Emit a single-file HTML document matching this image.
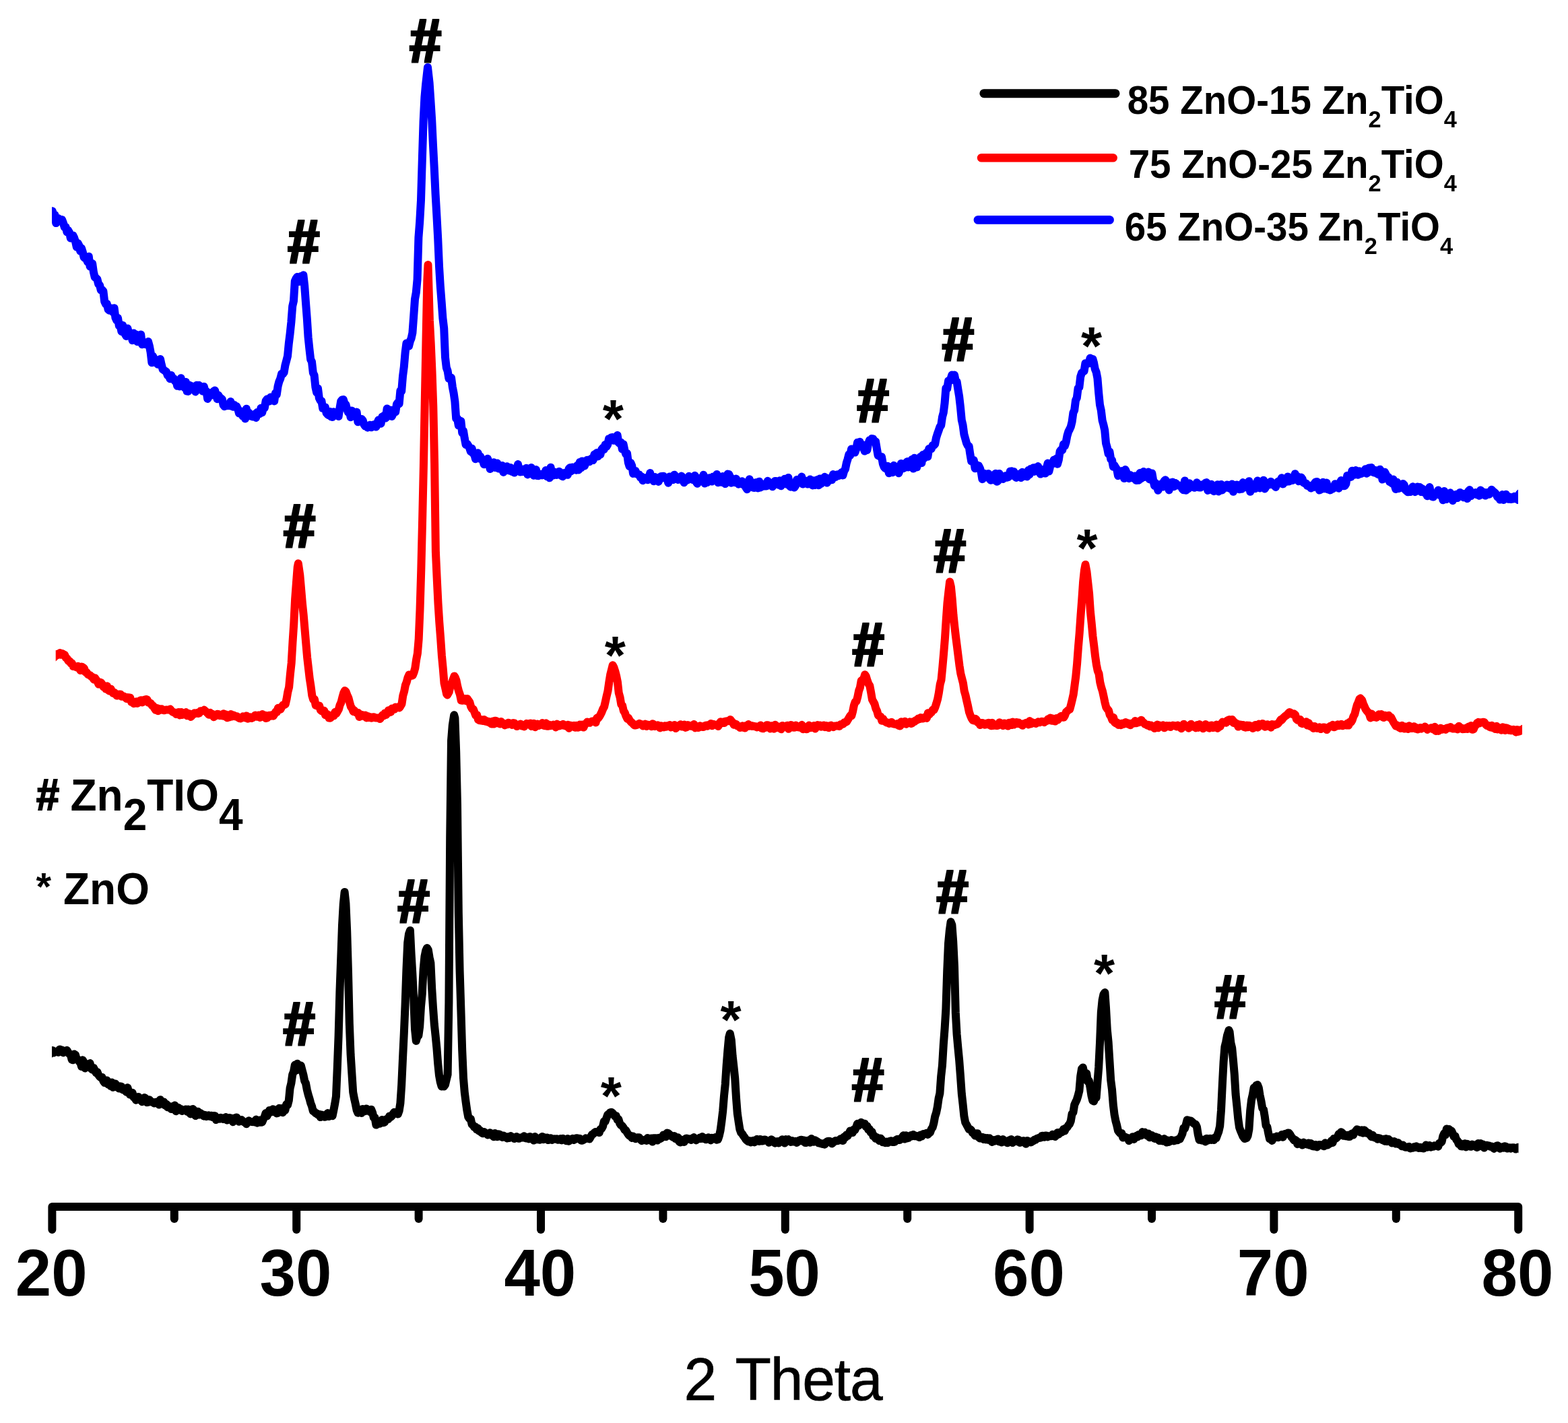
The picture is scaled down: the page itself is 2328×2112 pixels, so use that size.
<!DOCTYPE html>
<html lang="en"><head><meta charset="utf-8"><title>XRD patterns</title>
<style>
html,body{margin:0;padding:0;background:#fff;}
body{width:2328px;height:2112px;overflow:hidden;}
svg{display:block;}
text{font-family:"Liberation Sans",sans-serif;fill:#000;}
.tick{font-size:96px;font-weight:bold;}
.mk{font-weight:bold;}
.lg{font-size:56.5px;font-weight:bold;}
.lgs{font-size:34.4px;font-weight:bold;}
.ph{font-size:64px;font-weight:bold;}
.xl{font-size:87.6px;}
</style></head>
<body>
<svg width="2328" height="2112" viewBox="0 0 2328 2112">
<rect width="2328" height="2112" fill="#fff"/>
<g id="curves">
<clipPath id="clip-black"><rect x="77.0" y="0" width="2177.5" height="1780"/></clipPath>
<polyline clip-path="url(#clip-black)" points="67.0,1563.5 68.8,1565.0 70.6,1563.0 72.4,1557.0 74.2,1564.5 76.0,1562.7 77.8,1559.0 79.6,1562.6 81.4,1561.6 83.2,1561.2 85.0,1560.2 86.8,1561.9 88.6,1557.4 90.4,1559.4 92.2,1558.4 94.0,1562.4 95.8,1560.7 97.6,1559.9 99.4,1558.8 101.2,1561.8 103.0,1564.4 104.8,1565.2 106.6,1572.6 108.4,1573.3 110.2,1564.5 112.0,1565.6 113.8,1572.5 115.6,1572.5 117.4,1575.6 119.2,1576.4 121.0,1583.0 122.8,1573.3 124.6,1576.7 126.4,1585.5 128.2,1582.1 130.0,1583.3 131.8,1580.5 133.6,1578.1 135.4,1586.2 137.2,1587.7 139.0,1584.9 140.8,1588.5 142.6,1592.3 144.4,1590.9 146.2,1595.5 148.0,1597.9 149.8,1599.4 151.6,1599.1 153.4,1604.4 155.2,1606.8 157.0,1606.1 158.8,1603.4 160.6,1609.6 162.4,1606.5 164.2,1612.0 166.0,1606.4 167.8,1613.8 169.6,1611.6 171.4,1608.4 173.2,1612.2 175.0,1614.2 176.8,1615.6 178.6,1612.3 180.4,1612.6 182.2,1617.3 184.0,1615.8 185.8,1618.6 187.6,1620.8 189.4,1614.2 191.2,1620.8 193.0,1624.7 194.8,1621.5 196.6,1621.8 198.4,1628.5 200.2,1629.1 202.0,1632.7 203.8,1630.6 205.6,1628.0 207.4,1632.2 209.2,1631.6 211.0,1635.2 212.8,1633.8 214.6,1629.0 216.4,1630.4 218.2,1636.2 220.0,1635.8 221.8,1632.3 223.6,1634.3 225.4,1635.7 227.2,1636.0 229.0,1637.4 230.8,1636.0 232.6,1635.5 234.4,1635.5 236.2,1639.6 238.0,1632.2 239.8,1637.5 241.6,1638.6 243.4,1635.4 245.2,1640.6 247.0,1638.7 248.8,1643.3 250.6,1641.4 252.4,1644.0 254.2,1646.0 256.0,1644.4 257.8,1641.7 259.6,1640.6 261.4,1649.3 263.2,1645.0 265.0,1644.0 266.8,1646.5 268.6,1646.1 270.4,1649.0 272.2,1647.4 274.0,1647.8 275.8,1646.4 277.6,1649.7 279.4,1646.5 281.2,1650.9 283.0,1653.4 284.8,1646.6 286.6,1646.1 288.4,1652.6 290.2,1656.1 292.0,1649.8 293.8,1649.8 295.6,1654.6 297.4,1651.9 299.2,1653.3 301.0,1654.2 302.8,1656.7 304.6,1655.1 306.4,1657.1 308.2,1656.5 310.0,1655.3 311.8,1656.8 313.6,1655.7 315.4,1658.1 317.2,1655.9 319.0,1656.2 320.8,1662.1 322.6,1659.0 324.4,1659.2 326.2,1660.7 328.0,1658.9 329.8,1659.5 331.6,1661.1 333.4,1661.0 335.2,1658.1 337.0,1662.6 338.8,1659.7 340.6,1658.9 342.4,1659.5 344.2,1660.7 346.0,1665.2 347.8,1659.5 349.6,1662.5 351.4,1658.4 353.2,1662.7 355.0,1664.8 356.8,1662.7 358.6,1662.1 360.4,1664.1 362.2,1665.3 364.0,1665.5 365.8,1668.2 367.6,1664.9 369.4,1663.4 371.2,1664.5 373.0,1664.8 374.8,1665.2 376.6,1664.9 378.4,1665.4 380.2,1661.6 382.0,1666.7 383.8,1663.8 385.6,1662.6 387.4,1665.8 389.2,1665.5 391.0,1661.1 392.8,1657.4 394.6,1652.0 396.4,1656.4 398.2,1653.0 400.0,1647.9 401.8,1648.4 403.6,1650.3 405.4,1646.2 407.2,1650.2 409.0,1648.6 410.8,1652.5 412.6,1651.8 414.4,1644.8 416.2,1649.2 418.0,1645.0 419.8,1651.2 421.6,1648.5 423.4,1647.8 425.2,1639.0 427.0,1640.1 428.8,1633.3 430.6,1615.0 432.4,1607.6 434.2,1594.9 436.0,1590.5 437.8,1580.6 439.6,1588.6 441.4,1578.7 443.2,1581.3 445.0,1584.5 446.8,1581.6 448.6,1588.5 450.4,1595.3 452.2,1604.3 454.0,1607.8 455.8,1617.3 457.6,1624.7 459.4,1630.3 461.2,1637.1 463.0,1641.8 464.8,1649.1 466.6,1649.8 468.4,1652.1 470.2,1652.6 472.0,1654.4 473.8,1653.7 475.6,1658.1 477.4,1654.4 479.2,1655.3 481.0,1657.7 482.8,1657.7 484.6,1655.7 486.4,1652.1 488.2,1657.0 490.0,1656.3 491.8,1652.1 493.6,1656.2 495.4,1647.5 497.2,1638.1 499.0,1627.1 500.8,1584.5 502.6,1537.4 504.4,1472.6 506.2,1423.3 508.0,1373.1 509.8,1341.6 511.6,1324.0 513.4,1340.6 515.2,1382.1 517.0,1443.2 518.8,1518.8 520.6,1565.2 522.4,1593.4 524.2,1621.2 526.0,1630.6 527.8,1638.5 529.6,1647.6 531.4,1651.8 533.2,1650.4 535.0,1648.7 536.8,1651.9 538.6,1645.9 540.4,1647.2 542.2,1649.3 544.0,1645.5 545.8,1648.5 547.6,1648.0 549.4,1650.2 551.2,1646.7 553.0,1651.2 554.8,1658.6 556.6,1658.9 558.4,1669.6 560.2,1664.6 562.0,1664.5 563.8,1667.7 565.6,1665.9 567.4,1662.0 569.2,1666.2 571.0,1665.7 572.8,1661.8 574.6,1660.7 576.4,1660.9 578.2,1656.4 580.0,1658.0 581.8,1656.2 583.6,1653.1 585.4,1650.7 587.2,1652.8 589.0,1650.5 590.8,1653.6 592.6,1648.7 594.4,1637.3 596.2,1610.4 598.0,1570.9 599.8,1533.7 601.6,1491.0 603.4,1440.0 605.2,1399.4 607.0,1386.3 608.9,1381.0 610.6,1416.0 612.4,1446.0 614.2,1481.9 616.0,1527.3 617.8,1544.9 619.6,1538.6 621.4,1537.0 623.2,1523.5 625.0,1493.6 626.8,1474.6 628.6,1439.0 630.4,1419.7 632.2,1411.0 634.0,1407.0 635.8,1409.9 637.6,1421.0 639.4,1429.2 641.2,1467.4 643.0,1495.7 644.8,1520.2 646.6,1537.0 648.4,1555.4 650.2,1578.6 652.0,1596.3 653.8,1606.2 655.6,1612.4 657.4,1610.2 659.2,1612.5 661.0,1609.8 662.8,1602.1 664.6,1594.9 666.4,1487.0 668.2,1243.3 670.0,1099.3 671.8,1076.4 674.2,1061.3 675.4,1065.6 677.2,1115.9 679.0,1195.0 680.8,1354.6 682.6,1441.1 684.4,1499.3 686.2,1558.8 688.0,1600.0 689.8,1621.4 691.6,1635.4 693.4,1648.2 695.2,1657.7 697.0,1660.4 698.8,1660.6 700.6,1668.7 702.4,1670.1 704.2,1673.0 706.0,1672.5 707.8,1676.4 709.6,1674.5 711.4,1678.8 713.2,1678.1 715.0,1681.1 716.8,1682.3 718.6,1679.9 720.4,1681.5 722.2,1682.1 724.0,1684.4 725.8,1684.0 727.6,1681.2 729.4,1684.3 731.2,1685.1 733.0,1687.3 734.8,1681.9 736.6,1684.0 738.4,1687.3 740.2,1683.3 742.0,1683.8 743.8,1686.8 745.6,1687.8 747.4,1685.4 749.2,1687.5 751.0,1687.1 752.8,1689.5 754.6,1687.2 756.4,1689.0 758.2,1686.1 760.0,1687.5 761.8,1687.7 763.6,1689.9 765.4,1689.1 767.2,1687.1 769.0,1689.5 770.8,1689.8 772.6,1688.4 774.4,1688.3 776.2,1688.5 778.0,1686.2 779.8,1689.3 781.6,1689.4 783.4,1687.8 785.2,1690.4 787.0,1687.1 788.8,1688.5 790.6,1688.7 792.4,1692.6 794.2,1687.0 796.0,1690.6 797.8,1691.3 799.6,1690.4 801.4,1691.8 803.2,1688.3 805.0,1687.0 806.8,1691.3 808.6,1688.2 810.4,1689.7 812.2,1688.4 814.0,1692.0 815.8,1691.7 817.6,1689.3 819.4,1691.9 821.2,1690.7 823.0,1690.3 824.8,1690.7 826.6,1690.3 828.4,1691.7 830.2,1691.2 832.0,1690.2 833.8,1692.4 835.6,1689.8 837.4,1691.3 839.2,1691.6 841.0,1693.3 842.8,1690.1 844.6,1693.7 846.4,1691.2 848.2,1690.7 850.0,1689.9 851.8,1691.9 853.6,1691.1 855.4,1689.2 857.2,1689.2 859.0,1690.1 860.8,1689.8 862.6,1692.5 864.4,1692.8 866.2,1691.8 868.0,1690.8 869.8,1689.3 871.6,1689.6 873.4,1690.0 875.2,1690.4 877.0,1687.3 878.8,1684.0 880.6,1683.2 882.4,1681.3 884.2,1679.9 886.0,1679.9 887.8,1679.6 889.6,1681.1 891.4,1676.1 893.2,1675.2 895.0,1671.9 896.8,1664.5 898.6,1664.4 900.4,1659.5 902.2,1654.4 904.0,1653.5 905.8,1651.2 907.6,1650.7 909.4,1651.8 911.2,1654.2 913.0,1656.7 914.8,1656.4 916.6,1661.7 918.4,1661.5 920.2,1667.4 922.0,1670.1 923.8,1671.1 925.6,1673.5 927.4,1676.8 929.2,1677.5 931.0,1680.8 932.8,1683.7 934.6,1685.7 936.4,1685.7 938.2,1689.0 940.0,1686.6 941.8,1689.0 943.6,1690.1 945.4,1688.6 947.2,1688.2 949.0,1688.3 950.8,1691.1 952.6,1693.1 954.4,1692.2 956.2,1692.2 958.0,1691.4 959.8,1692.9 961.6,1688.9 963.4,1692.2 965.2,1691.8 967.0,1689.5 968.8,1694.6 970.6,1689.2 972.4,1689.5 974.2,1689.2 976.0,1692.6 977.8,1688.8 979.6,1690.4 981.4,1689.3 983.2,1687.8 985.0,1684.4 986.8,1684.5 988.6,1687.2 990.4,1681.6 992.2,1682.1 994.0,1683.6 995.8,1686.0 997.6,1686.1 999.4,1687.9 1001.2,1685.9 1003.0,1690.1 1004.8,1690.7 1006.6,1688.3 1008.4,1694.3 1010.2,1695.6 1012.0,1691.7 1013.8,1693.1 1015.6,1695.1 1017.4,1690.3 1019.2,1689.4 1021.0,1690.0 1022.8,1690.8 1024.6,1690.3 1026.4,1691.8 1028.2,1690.8 1030.0,1688.0 1031.8,1690.5 1033.6,1692.2 1035.4,1690.8 1037.2,1690.3 1039.0,1688.6 1040.8,1690.1 1042.6,1687.0 1044.4,1690.0 1046.2,1688.9 1048.0,1691.2 1049.8,1690.4 1051.6,1688.2 1053.4,1690.5 1055.2,1692.4 1057.0,1688.7 1058.8,1689.6 1060.6,1689.2 1062.4,1687.9 1064.2,1691.6 1066.0,1691.2 1067.8,1685.6 1069.6,1677.7 1071.4,1664.4 1073.2,1649.1 1075.0,1626.5 1076.8,1609.0 1078.6,1581.7 1080.4,1559.0 1082.2,1539.6 1083.8,1534.0 1085.8,1543.8 1087.6,1566.9 1089.4,1582.8 1091.2,1600.0 1093.0,1629.5 1094.8,1652.7 1096.6,1664.9 1098.4,1676.2 1100.2,1681.1 1102.0,1682.9 1103.8,1685.9 1105.6,1688.2 1107.4,1691.1 1109.2,1692.8 1111.0,1694.2 1112.8,1693.1 1114.6,1695.5 1116.4,1693.6 1118.2,1692.9 1120.0,1695.4 1121.8,1692.5 1123.6,1690.9 1125.4,1692.3 1127.2,1694.1 1129.0,1690.9 1130.8,1693.4 1132.6,1693.4 1134.4,1691.6 1136.2,1691.5 1138.0,1693.1 1139.8,1693.0 1141.6,1695.8 1143.4,1694.4 1145.2,1691.2 1147.0,1692.4 1148.8,1694.8 1150.6,1696.7 1152.4,1694.3 1154.2,1694.1 1156.0,1696.6 1157.8,1693.5 1159.6,1693.0 1161.4,1691.2 1163.2,1692.6 1165.0,1696.5 1166.8,1691.1 1168.6,1693.4 1170.4,1691.1 1172.2,1693.5 1174.0,1694.7 1175.8,1692.9 1177.6,1694.4 1179.4,1694.4 1181.2,1693.9 1183.0,1695.9 1184.8,1694.4 1186.6,1692.6 1188.4,1692.0 1190.2,1691.7 1192.0,1693.8 1193.8,1692.5 1195.6,1696.1 1197.4,1696.0 1199.2,1692.7 1201.0,1692.5 1202.8,1695.7 1204.6,1690.0 1206.4,1692.3 1208.2,1694.7 1210.0,1692.2 1211.8,1693.4 1213.6,1694.3 1215.4,1696.6 1217.2,1696.4 1219.0,1697.3 1220.8,1697.9 1222.6,1697.0 1224.4,1698.7 1226.2,1695.7 1228.0,1694.4 1229.8,1693.7 1231.6,1693.7 1233.4,1695.2 1235.2,1697.4 1237.0,1695.7 1238.8,1694.1 1240.6,1692.9 1242.4,1693.3 1244.2,1693.0 1246.0,1692.3 1247.8,1690.4 1249.6,1691.4 1251.4,1693.1 1253.2,1687.3 1255.0,1688.6 1256.8,1684.3 1258.6,1685.8 1260.4,1682.4 1262.2,1678.4 1264.0,1679.9 1265.8,1681.1 1267.6,1676.5 1269.4,1676.9 1271.2,1673.0 1273.0,1667.8 1274.8,1670.7 1276.6,1667.6 1278.4,1665.9 1280.5,1667.0 1282.0,1667.6 1283.8,1667.8 1285.6,1672.2 1287.4,1671.2 1289.2,1676.5 1291.0,1676.1 1292.8,1680.7 1294.6,1679.8 1296.4,1686.0 1298.2,1686.0 1300.0,1689.8 1301.8,1688.0 1303.6,1690.0 1305.4,1693.1 1307.2,1689.4 1309.0,1691.3 1310.8,1695.2 1312.6,1694.8 1314.4,1696.1 1316.2,1694.4 1318.0,1696.2 1319.8,1694.4 1321.6,1693.6 1323.4,1693.2 1325.2,1695.1 1327.0,1695.1 1328.8,1694.5 1330.6,1691.8 1332.4,1690.8 1334.2,1691.9 1336.0,1692.0 1337.8,1689.5 1339.6,1687.9 1341.4,1685.2 1343.2,1690.5 1345.0,1685.2 1346.8,1689.4 1348.6,1689.0 1350.4,1686.7 1352.2,1685.2 1354.0,1686.2 1355.8,1684.0 1357.6,1686.2 1359.4,1685.6 1361.2,1686.4 1363.0,1686.9 1364.8,1688.1 1366.6,1684.5 1368.4,1686.6 1370.2,1683.4 1372.0,1682.9 1373.8,1683.0 1375.6,1681.8 1377.4,1683.9 1379.2,1682.2 1381.0,1680.7 1382.8,1675.8 1384.6,1673.3 1386.4,1666.8 1388.2,1657.2 1390.0,1651.7 1391.8,1643.1 1393.6,1630.3 1395.4,1622.6 1397.2,1597.3 1399.0,1581.1 1400.8,1550.7 1402.6,1526.7 1404.4,1497.4 1406.2,1441.7 1408.0,1400.4 1409.8,1381.4 1411.6,1368.2 1413.4,1372.7 1415.2,1397.1 1417.0,1434.2 1418.8,1503.0 1420.6,1535.2 1422.4,1555.3 1424.2,1573.8 1426.0,1597.5 1427.8,1623.1 1429.6,1639.1 1431.4,1656.6 1433.2,1665.9 1435.0,1669.1 1436.8,1672.5 1438.6,1675.9 1440.4,1675.9 1442.2,1677.6 1444.0,1681.7 1445.8,1682.0 1447.6,1685.5 1449.4,1682.3 1451.2,1682.3 1453.0,1688.0 1454.8,1689.3 1456.6,1687.8 1458.4,1687.7 1460.2,1690.9 1462.0,1688.8 1463.8,1691.4 1465.6,1689.1 1467.4,1691.8 1469.2,1689.3 1471.0,1692.0 1472.8,1694.9 1474.6,1692.1 1476.4,1693.8 1478.2,1691.6 1480.0,1691.3 1481.8,1690.4 1483.6,1694.5 1485.4,1692.8 1487.2,1695.5 1489.0,1691.1 1490.8,1692.8 1492.6,1693.3 1494.4,1695.6 1496.2,1696.3 1498.0,1692.5 1499.8,1691.8 1501.6,1691.0 1503.4,1696.0 1505.2,1693.8 1507.0,1693.1 1508.8,1694.1 1510.6,1691.3 1512.4,1691.6 1514.2,1696.0 1516.0,1695.2 1517.8,1694.9 1519.6,1693.1 1521.4,1695.7 1523.2,1697.7 1525.0,1692.9 1526.8,1694.9 1528.6,1694.2 1530.4,1695.4 1532.2,1694.4 1534.0,1693.5 1535.8,1691.5 1537.6,1691.8 1539.4,1689.8 1541.2,1689.4 1543.0,1688.5 1544.8,1688.7 1546.6,1685.9 1548.4,1685.7 1550.2,1687.7 1552.0,1685.6 1553.8,1685.5 1555.6,1687.3 1557.4,1686.3 1559.2,1686.1 1561.0,1686.2 1562.8,1683.7 1564.6,1686.1 1566.4,1687.0 1568.2,1685.2 1570.0,1681.1 1571.8,1683.4 1573.6,1680.6 1575.4,1680.7 1577.2,1679.9 1579.0,1675.9 1580.8,1678.5 1582.6,1674.0 1584.4,1673.3 1586.2,1670.2 1588.0,1668.3 1589.8,1663.8 1591.6,1653.1 1593.4,1651.0 1595.2,1639.8 1597.0,1635.8 1598.8,1631.9 1600.6,1626.1 1602.4,1619.1 1604.2,1597.5 1606.0,1586.5 1607.8,1584.4 1609.6,1592.5 1611.4,1596.6 1613.2,1593.0 1615.0,1605.1 1616.8,1604.1 1618.6,1613.8 1620.4,1625.8 1622.2,1633.4 1624.0,1634.6 1625.8,1628.9 1627.6,1629.3 1629.4,1606.3 1631.2,1583.9 1633.0,1547.7 1634.8,1502.7 1636.6,1484.5 1638.4,1476.1 1640.4,1473.0 1642.0,1495.7 1643.8,1528.4 1645.6,1546.6 1647.4,1574.7 1649.2,1603.3 1651.0,1617.1 1652.8,1639.7 1654.6,1654.4 1656.4,1663.6 1658.2,1670.2 1660.0,1678.2 1661.8,1680.6 1663.6,1682.4 1665.4,1682.0 1667.2,1688.5 1669.0,1687.7 1670.8,1687.5 1672.6,1688.6 1674.4,1688.9 1676.2,1693.1 1678.0,1690.7 1679.8,1690.6 1681.6,1687.3 1683.4,1690.9 1685.2,1687.1 1687.0,1685.9 1688.8,1687.5 1690.6,1684.0 1692.4,1685.7 1694.2,1685.4 1696.0,1680.1 1697.8,1682.8 1699.6,1680.6 1701.4,1683.4 1703.2,1685.5 1705.0,1682.5 1706.8,1688.3 1708.6,1685.7 1710.4,1685.1 1712.2,1687.6 1714.0,1689.9 1715.8,1687.2 1717.6,1690.1 1719.4,1688.5 1721.2,1693.1 1723.0,1691.7 1724.8,1691.0 1726.6,1693.6 1728.4,1690.1 1730.2,1691.7 1732.0,1695.5 1733.8,1692.5 1735.6,1695.0 1737.4,1693.3 1739.2,1692.0 1741.0,1692.8 1742.8,1693.4 1744.6,1692.7 1746.4,1692.1 1748.2,1692.2 1750.0,1690.6 1751.8,1690.5 1753.6,1686.7 1755.4,1682.8 1757.2,1674.4 1759.0,1675.1 1760.8,1669.2 1762.6,1662.3 1764.4,1662.8 1766.2,1663.7 1768.0,1663.5 1769.8,1664.9 1771.6,1666.7 1773.4,1668.3 1775.2,1668.8 1777.0,1672.8 1778.8,1684.2 1780.6,1691.8 1782.4,1690.7 1784.2,1692.5 1786.0,1692.7 1787.8,1691.5 1789.6,1694.4 1791.4,1689.7 1793.2,1692.7 1795.0,1690.4 1796.8,1689.8 1798.6,1691.9 1800.4,1689.8 1802.2,1692.0 1804.0,1688.5 1805.8,1688.9 1807.6,1684.0 1809.4,1679.3 1811.2,1671.3 1813.0,1647.9 1814.8,1610.5 1816.6,1576.2 1818.4,1553.9 1820.2,1546.4 1822.0,1536.8 1824.5,1529.0 1825.6,1531.6 1827.4,1547.8 1829.2,1555.4 1831.0,1574.2 1832.8,1594.8 1834.6,1624.3 1836.4,1641.5 1838.2,1660.1 1840.0,1673.2 1841.8,1678.2 1843.6,1682.4 1845.4,1686.6 1848.0,1690.0 1850.8,1689.1 1852.6,1685.7 1854.4,1676.1 1856.2,1648.4 1858.0,1632.9 1859.8,1624.9 1861.6,1614.5 1863.4,1615.1 1865.2,1610.9 1867.0,1610.0 1868.8,1614.4 1870.6,1625.8 1872.4,1634.0 1874.2,1644.6 1876.0,1646.8 1877.8,1657.3 1879.6,1670.8 1881.4,1672.6 1883.2,1682.1 1885.0,1690.1 1886.8,1690.5 1888.6,1693.0 1890.4,1689.2 1892.2,1687.8 1894.0,1687.9 1895.8,1686.5 1897.6,1688.3 1899.4,1686.9 1901.2,1687.2 1903.0,1684.1 1904.8,1687.7 1906.6,1683.5 1908.4,1682.7 1910.2,1682.9 1912.0,1681.6 1913.8,1681.6 1915.6,1684.2 1917.4,1687.5 1919.2,1689.4 1921.0,1692.1 1922.8,1691.8 1924.6,1693.0 1926.4,1698.2 1928.2,1695.3 1930.0,1697.0 1931.8,1698.0 1933.6,1699.6 1935.4,1695.6 1937.2,1697.5 1939.0,1698.0 1940.8,1698.6 1942.6,1696.4 1944.4,1699.6 1946.2,1697.0 1948.0,1700.8 1949.8,1701.4 1951.6,1701.6 1953.4,1698.9 1955.2,1702.4 1957.0,1699.6 1958.8,1699.0 1960.6,1699.3 1962.4,1699.3 1964.2,1700.6 1966.0,1701.2 1967.8,1696.3 1969.6,1697.8 1971.4,1699.4 1973.2,1697.5 1975.0,1697.2 1976.8,1693.1 1978.6,1696.0 1980.4,1690.0 1982.2,1690.2 1984.0,1689.2 1985.8,1687.4 1987.6,1683.1 1989.4,1682.6 1991.2,1680.2 1993.0,1681.4 1994.8,1685.6 1996.6,1685.2 1998.4,1686.2 2000.2,1684.7 2002.0,1687.0 2003.8,1687.0 2005.6,1683.5 2007.4,1682.5 2009.2,1684.5 2011.0,1680.7 2012.8,1678.7 2014.6,1676.4 2016.4,1676.9 2018.2,1677.6 2020.0,1680.6 2021.8,1677.3 2023.6,1681.7 2025.4,1677.3 2027.2,1678.7 2029.0,1681.8 2030.8,1681.4 2032.6,1682.0 2034.4,1684.8 2036.2,1687.2 2038.0,1684.8 2039.8,1687.9 2041.6,1688.6 2043.4,1688.6 2045.2,1690.8 2047.0,1689.0 2048.8,1689.7 2050.6,1690.6 2052.4,1692.0 2054.2,1690.7 2056.0,1693.8 2057.8,1690.1 2059.6,1694.0 2061.4,1690.8 2063.2,1692.3 2065.0,1693.6 2066.8,1696.5 2068.6,1695.5 2070.4,1694.1 2072.2,1697.6 2074.0,1696.0 2075.8,1695.9 2077.6,1698.7 2079.4,1699.0 2081.2,1701.2 2083.0,1699.5 2084.8,1701.7 2086.6,1702.7 2088.4,1702.7 2090.2,1702.6 2092.0,1701.8 2093.8,1704.4 2095.6,1703.2 2097.4,1703.8 2099.2,1702.4 2101.0,1702.9 2102.8,1701.2 2104.6,1703.0 2106.4,1704.0 2108.2,1702.8 2110.0,1704.0 2111.8,1703.0 2113.6,1704.6 2115.4,1702.0 2117.2,1699.5 2119.0,1702.7 2120.8,1701.6 2122.6,1700.1 2124.4,1702.6 2126.2,1701.7 2128.0,1701.8 2129.8,1700.3 2131.6,1700.8 2133.4,1700.2 2135.2,1701.7 2137.0,1696.5 2138.8,1696.1 2140.6,1694.6 2142.4,1686.1 2144.2,1682.1 2146.0,1684.5 2147.8,1675.4 2149.6,1678.1 2151.4,1676.0 2153.2,1677.9 2155.0,1678.3 2156.8,1682.3 2158.6,1687.1 2160.4,1686.0 2162.2,1691.5 2164.0,1693.3 2165.8,1698.0 2167.6,1696.6 2169.4,1701.3 2171.2,1701.4 2173.0,1699.5 2174.8,1697.3 2176.6,1702.4 2178.4,1697.8 2180.2,1699.2 2182.0,1701.4 2183.8,1701.8 2185.6,1698.6 2187.4,1699.9 2189.2,1699.6 2191.0,1701.9 2192.8,1703.0 2194.6,1697.1 2196.4,1701.5 2198.2,1697.1 2200.0,1700.2 2201.8,1698.6 2203.6,1703.5 2205.4,1701.0 2207.2,1699.7 2209.0,1700.3 2210.8,1700.4 2212.6,1701.8 2214.4,1701.5 2216.2,1703.0 2218.0,1704.7 2219.8,1703.5 2221.6,1700.7 2223.4,1700.2 2225.2,1701.7 2227.0,1704.8 2228.8,1702.7 2230.6,1702.2 2232.4,1703.7 2234.2,1701.3 2236.0,1701.8 2237.8,1704.6 2239.6,1703.4 2241.4,1703.3 2243.2,1704.6 2245.0,1703.2 2246.8,1703.2 2248.6,1703.6 2250.4,1705.4 2252.2,1704.6 2254.0,1702.7 2255.8,1704.2 2257.6,1705.8 2259.4,1707.8 2261.2,1703.1 2263.0,1705.5" fill="none" stroke="#000" stroke-width="12" stroke-linejoin="round" stroke-linecap="butt"/>
<clipPath id="clip-blue"><rect x="77.0" y="0" width="2177.0" height="1780"/></clipPath>
<polyline clip-path="url(#clip-blue)" points="67.0,324.6 68.8,309.8 70.6,320.0 72.4,316.7 74.2,317.9 76.0,319.6 77.8,313.3 79.6,320.6 81.4,318.8 83.2,331.1 85.0,325.3 86.8,324.2 88.6,325.8 90.4,325.8 92.2,326.2 94.0,331.2 95.8,337.3 97.6,336.9 99.4,344.4 101.2,341.9 103.0,345.0 104.8,353.4 106.6,351.5 108.4,349.4 110.2,353.0 112.0,358.5 113.8,366.8 115.6,360.9 117.4,364.3 119.2,372.8 121.0,368.4 122.8,374.1 124.6,381.9 126.4,383.4 128.2,383.9 130.0,388.7 131.8,380.7 133.6,395.4 135.4,390.3 137.2,391.2 139.0,404.2 140.8,411.7 142.6,412.6 144.4,414.5 146.2,421.8 148.0,423.2 149.8,430.7 151.6,430.1 153.4,432.2 155.2,447.6 157.0,451.2 158.8,451.1 160.6,459.3 162.4,460.7 164.2,458.6 166.0,457.6 167.8,463.4 169.6,457.2 171.4,471.6 173.2,475.5 175.0,471.8 176.8,483.5 178.6,482.9 180.4,492.0 182.2,482.8 184.0,488.2 185.8,496.1 187.6,499.0 189.4,487.4 191.2,494.1 193.0,498.3 194.8,495.4 196.6,505.2 198.4,494.5 200.2,501.5 202.0,496.4 203.8,507.2 205.6,502.0 207.4,501.3 209.2,496.6 211.0,511.2 212.8,508.0 214.6,508.7 216.4,511.2 218.2,509.2 220.0,507.0 221.8,513.3 223.6,522.9 225.4,538.3 227.2,528.7 229.0,533.6 230.8,535.7 232.6,538.7 234.4,540.8 236.2,534.1 238.0,533.1 239.8,541.4 241.6,548.2 243.4,549.3 245.2,550.6 247.0,551.9 248.8,557.1 250.6,556.6 252.4,562.3 254.2,556.9 256.0,561.7 257.8,561.7 259.6,565.3 261.4,564.9 263.2,572.8 265.0,572.3 266.8,573.6 268.6,561.2 270.4,569.1 272.2,569.5 274.0,575.6 275.8,566.9 277.6,580.6 279.4,580.9 281.2,571.6 283.0,572.9 284.8,573.2 286.6,575.8 288.4,577.3 290.2,581.4 292.0,571.7 293.8,574.8 295.6,571.8 297.4,578.3 299.2,575.4 301.0,580.5 302.8,573.7 304.6,580.6 306.4,580.9 308.2,592.0 310.0,588.6 311.8,584.3 313.6,583.1 315.4,586.3 317.2,580.8 319.0,579.4 320.8,585.0 322.6,592.2 324.4,586.8 326.2,589.8 328.0,591.1 329.8,592.6 331.6,601.2 333.4,603.3 335.2,600.4 337.0,602.3 338.8,601.8 340.6,602.3 342.4,596.0 344.2,600.8 346.0,603.8 347.8,600.9 349.6,603.3 351.4,603.3 353.2,607.0 355.0,613.6 356.8,610.1 358.6,612.5 360.4,617.5 362.2,617.2 364.0,621.5 365.8,606.8 367.6,618.0 369.4,612.4 371.2,614.9 373.0,617.6 374.8,618.5 376.6,618.1 378.4,614.3 380.2,620.0 382.0,612.0 383.8,612.1 385.6,614.2 387.4,605.7 389.2,612.3 391.0,605.0 392.8,605.4 394.6,595.2 396.4,592.5 398.2,593.9 400.0,595.5 401.8,589.5 403.6,592.7 405.4,590.1 407.2,595.4 409.0,583.2 410.8,585.6 412.6,573.2 414.4,566.3 416.2,562.2 418.0,555.1 419.8,555.2 421.6,552.9 423.4,542.3 425.2,535.5 427.0,528.5 428.8,509.8 430.6,495.3 432.4,478.0 434.2,454.5 436.0,446.6 437.8,417.2 439.6,413.3 441.4,410.9 443.2,418.1 445.0,414.7 446.8,410.1 448.6,412.4 450.4,408.3 452.2,424.5 454.0,449.3 455.8,472.6 457.6,500.5 459.4,517.9 461.2,533.6 463.0,537.1 464.8,553.2 466.6,557.1 468.4,574.6 470.2,582.6 472.0,576.4 473.8,590.7 475.6,594.5 477.4,595.1 479.2,606.0 481.0,606.1 482.8,604.2 484.6,613.1 486.4,615.1 488.2,616.4 490.0,611.0 491.8,618.5 493.6,619.0 495.4,611.3 497.2,613.3 499.0,615.7 500.8,612.5 502.6,618.0 504.4,606.0 506.2,595.6 508.0,593.4 509.8,593.0 511.6,599.0 513.4,600.3 515.2,607.3 517.0,612.1 518.8,610.7 520.6,619.2 522.4,609.6 524.2,615.3 526.0,613.7 527.8,616.9 529.6,611.6 531.4,626.2 533.2,621.0 535.0,624.0 536.8,621.9 538.6,623.8 540.4,629.9 542.2,632.5 544.0,632.2 545.8,634.7 547.6,633.2 549.4,630.8 551.2,634.3 553.0,633.4 554.8,630.2 556.6,632.7 558.4,633.6 560.2,627.5 562.0,623.2 563.8,625.7 565.6,628.7 567.4,618.6 569.2,617.8 571.0,616.2 572.8,620.4 574.6,606.5 576.4,614.5 578.2,617.2 580.0,608.7 581.8,618.1 583.6,614.2 585.4,609.7 587.2,611.5 589.0,600.0 590.8,597.4 592.6,599.4 594.4,579.9 596.2,580.5 598.0,558.5 599.8,544.6 601.6,523.6 603.4,509.4 605.2,512.2 607.0,513.9 608.8,506.6 610.6,502.2 612.4,494.0 614.2,469.4 616.0,444.0 617.8,434.1 619.6,414.6 621.4,352.6 623.2,329.2 625.0,297.1 626.8,237.6 628.6,180.3 630.4,144.5 632.2,124.6 635.0,100.0 637.6,122.9 639.4,149.7 641.2,177.8 643.0,215.9 644.8,250.5 646.6,288.6 648.4,320.1 650.2,353.8 652.0,395.2 653.8,424.6 655.6,447.8 657.4,472.2 659.2,487.1 661.0,530.4 662.8,545.6 664.6,550.6 666.4,561.8 668.2,562.5 670.0,560.6 671.8,574.3 673.6,583.4 675.4,596.0 677.2,621.2 679.0,620.9 680.8,631.5 682.6,624.3 684.4,625.0 686.2,642.5 688.0,639.5 689.8,650.7 691.6,660.1 693.4,658.5 695.2,661.1 697.0,664.7 698.8,670.2 700.6,665.5 702.4,673.0 704.2,674.4 706.0,681.2 707.8,673.4 709.6,672.3 711.4,680.5 713.2,677.4 715.0,682.0 716.8,683.2 718.6,689.2 720.4,683.4 722.2,687.1 724.0,680.8 725.8,685.6 727.6,696.1 729.4,687.6 731.2,687.9 733.0,686.3 734.8,694.0 736.6,692.8 738.4,687.5 740.2,695.4 742.0,694.0 743.8,696.4 745.6,690.9 747.4,700.9 749.2,695.7 751.0,693.8 752.8,692.4 754.6,693.7 756.4,698.5 758.2,694.1 760.0,699.9 761.8,698.2 763.6,701.6 765.4,699.7 767.2,696.3 769.0,689.1 770.8,698.4 772.6,700.6 774.4,698.3 776.2,700.2 778.0,696.2 779.8,696.8 781.6,694.8 783.4,704.4 785.2,699.7 787.0,697.2 788.8,694.0 790.6,699.0 792.4,705.7 794.2,701.8 796.0,697.1 797.8,706.1 799.6,706.2 801.4,704.5 803.2,703.8 805.0,705.5 806.8,703.1 808.6,704.2 810.4,697.9 812.2,707.4 814.0,702.3 815.8,709.2 817.6,693.7 819.4,704.5 821.2,705.7 823.0,700.4 824.8,703.7 826.6,705.0 828.4,704.3 830.2,699.8 832.0,701.4 833.8,706.2 835.6,707.2 837.4,702.2 839.2,701.8 841.0,701.9 842.8,704.8 844.6,695.7 846.4,693.9 848.2,699.2 850.0,693.4 851.8,694.8 853.6,696.8 855.4,697.7 857.2,690.6 859.0,697.4 860.8,685.9 862.6,694.4 864.4,684.6 866.2,684.7 868.0,691.4 869.8,685.8 871.6,682.8 873.4,682.9 875.2,685.2 877.0,681.6 878.8,680.2 880.6,683.1 882.4,674.4 884.2,673.8 886.0,672.1 887.8,677.4 889.6,675.0 891.4,674.5 893.2,667.2 895.0,664.8 896.8,667.0 898.6,659.9 900.4,662.9 902.2,659.9 904.0,651.2 905.8,651.1 907.6,649.3 909.0,649.0 911.2,653.8 913.0,650.1 914.8,652.0 916.6,646.1 918.4,656.9 920.2,658.4 922.0,656.5 923.8,666.6 925.6,659.4 927.4,668.3 929.2,673.8 931.0,672.8 932.8,686.4 934.6,692.2 936.4,687.0 938.2,691.1 940.0,702.9 941.8,702.7 943.6,699.0 945.4,703.2 947.2,704.3 949.0,704.5 950.8,708.8 952.6,707.3 954.4,713.2 956.2,711.9 958.0,709.2 959.8,711.1 961.6,712.3 963.4,709.9 965.2,702.1 967.0,710.8 968.8,707.7 970.6,714.2 972.4,708.1 974.2,710.0 976.0,709.3 977.8,714.9 979.6,708.9 981.4,707.1 983.2,709.6 985.0,706.7 986.8,709.3 988.6,708.7 990.4,709.9 992.2,716.7 994.0,707.4 995.8,709.4 997.6,708.5 999.4,712.2 1001.2,704.7 1003.0,706.8 1004.8,709.6 1006.6,712.1 1008.4,709.8 1010.2,708.0 1012.0,706.6 1013.8,712.4 1015.6,716.3 1017.4,711.8 1019.2,711.3 1021.0,712.4 1022.8,706.8 1024.6,709.4 1026.4,709.6 1028.2,712.0 1030.0,710.7 1031.8,705.8 1033.6,715.4 1035.4,717.8 1037.2,709.8 1039.0,712.5 1040.8,712.0 1042.6,714.1 1044.4,704.8 1046.2,717.5 1048.0,709.0 1049.8,716.1 1051.6,711.2 1053.4,709.3 1055.2,710.3 1057.0,714.6 1058.8,707.4 1060.6,709.4 1062.4,708.9 1064.2,703.9 1066.0,716.3 1067.8,713.3 1069.6,710.9 1071.4,715.7 1073.2,707.1 1075.0,710.7 1076.8,718.1 1078.6,715.2 1080.4,703.6 1082.2,703.9 1084.0,707.7 1085.8,716.7 1087.6,710.8 1089.4,712.3 1091.2,716.2 1093.0,710.6 1094.8,715.6 1096.6,718.5 1098.4,717.7 1100.2,717.9 1102.0,714.3 1103.8,719.4 1105.6,716.0 1107.4,723.5 1109.2,726.3 1111.0,715.8 1112.8,711.3 1114.6,717.6 1116.4,721.0 1118.2,723.8 1120.0,723.9 1121.8,716.2 1123.6,716.1 1125.4,724.5 1127.2,714.7 1129.0,723.5 1130.8,717.9 1132.6,721.8 1134.4,721.4 1136.2,721.5 1138.0,721.5 1139.8,713.8 1141.6,718.9 1143.4,717.6 1145.2,718.6 1147.0,722.3 1148.8,716.0 1150.6,714.0 1152.4,713.9 1154.2,715.5 1156.0,719.8 1157.8,713.2 1159.6,721.3 1161.4,717.6 1163.2,715.4 1165.0,710.8 1166.8,717.2 1168.6,719.0 1170.4,708.9 1172.2,720.9 1174.0,722.7 1175.8,717.3 1177.6,717.9 1179.4,723.6 1181.2,720.8 1183.0,712.0 1184.8,715.6 1186.6,714.9 1188.4,714.9 1190.2,707.6 1192.0,718.5 1193.8,712.7 1195.6,715.9 1197.4,714.6 1199.2,718.6 1201.0,713.7 1202.8,711.6 1204.6,716.9 1206.4,720.4 1208.2,713.2 1210.0,720.0 1211.8,715.3 1213.6,711.9 1215.4,720.2 1217.2,710.4 1219.0,717.8 1220.8,711.3 1222.6,715.0 1224.4,707.8 1226.2,709.1 1228.0,716.6 1229.8,712.6 1231.6,711.6 1233.4,709.1 1235.2,712.2 1237.0,704.1 1238.8,704.7 1240.6,707.9 1242.4,704.4 1244.2,704.2 1246.0,705.9 1247.8,704.0 1249.6,701.0 1251.4,705.5 1253.2,699.2 1255.0,696.2 1256.8,687.1 1258.6,681.5 1260.4,674.4 1262.2,676.0 1264.0,666.5 1265.8,668.6 1267.6,670.9 1269.4,671.5 1271.2,666.3 1273.0,656.8 1274.8,661.3 1276.6,655.8 1278.4,662.9 1280.2,659.9 1282.0,664.7 1283.8,669.6 1285.6,665.7 1287.4,668.0 1289.2,658.2 1291.0,653.2 1292.8,654.3 1294.5,651.0 1296.4,651.4 1298.2,656.3 1300.0,655.1 1301.8,665.8 1303.6,675.9 1305.4,676.7 1307.2,678.2 1309.0,677.9 1310.8,688.3 1312.6,693.1 1314.4,695.0 1316.2,696.1 1318.0,691.8 1319.8,702.3 1322.0,699.0 1323.4,698.8 1325.2,701.2 1327.0,690.8 1328.8,698.0 1330.6,697.2 1332.4,698.8 1334.2,702.3 1336.0,698.1 1337.8,688.0 1339.6,693.4 1341.4,694.9 1343.2,693.9 1345.0,687.4 1346.8,685.1 1348.6,693.4 1350.4,691.9 1352.2,689.7 1354.0,681.9 1355.8,695.5 1357.6,679.7 1359.4,685.1 1361.2,693.5 1363.0,684.2 1364.8,684.8 1366.6,677.9 1368.4,687.2 1370.2,675.0 1372.0,680.0 1373.8,678.1 1375.6,671.7 1377.4,677.8 1379.2,666.1 1381.0,666.5 1382.8,666.1 1384.6,661.2 1386.4,661.1 1388.2,659.0 1390.0,649.7 1391.8,644.0 1393.6,638.9 1395.4,633.6 1397.2,631.4 1399.0,619.1 1400.8,612.2 1402.6,598.1 1404.4,576.0 1406.2,577.1 1408.0,565.6 1409.8,565.6 1411.6,562.1 1413.3,556.5 1415.2,558.3 1417.0,556.5 1418.8,565.2 1420.6,566.3 1422.4,578.0 1424.2,588.8 1426.0,604.7 1427.8,623.5 1429.6,631.2 1431.4,644.6 1433.2,651.1 1435.0,657.6 1436.8,661.2 1438.6,662.2 1440.4,674.3 1442.2,684.7 1444.0,683.8 1445.8,683.1 1447.6,695.2 1449.4,689.6 1451.2,691.4 1453.0,691.3 1454.8,694.8 1456.6,700.1 1458.4,711.2 1460.2,704.7 1462.0,703.1 1463.8,706.2 1465.6,708.7 1467.4,703.0 1469.2,710.5 1471.0,712.8 1472.8,711.2 1474.6,712.3 1476.4,704.5 1478.2,702.7 1480.0,714.8 1481.8,713.9 1483.6,702.9 1485.4,709.9 1487.2,709.0 1489.0,710.9 1490.8,709.3 1492.6,706.2 1494.4,708.8 1496.2,708.4 1498.0,707.4 1499.8,699.7 1501.6,699.3 1503.4,703.6 1505.2,699.9 1507.0,707.4 1508.8,708.9 1510.6,706.7 1512.4,703.7 1514.2,705.1 1516.0,709.1 1517.8,700.8 1519.6,707.0 1521.4,705.5 1523.2,703.1 1525.0,707.4 1526.8,698.0 1528.6,704.2 1530.4,695.9 1532.2,696.0 1534.0,694.3 1535.8,699.9 1537.6,693.7 1539.4,697.4 1541.2,692.1 1543.0,700.7 1544.8,703.6 1546.6,696.7 1548.4,702.2 1550.2,697.5 1552.0,702.6 1553.8,694.9 1555.6,687.6 1557.4,699.6 1559.2,692.4 1561.0,687.8 1562.8,688.1 1564.6,682.5 1566.4,686.6 1568.2,680.7 1570.0,688.7 1571.8,682.6 1573.6,670.1 1575.4,667.6 1577.2,668.2 1579.0,659.2 1580.8,662.0 1582.6,656.6 1584.4,647.0 1586.2,640.8 1588.0,637.4 1589.8,633.4 1591.6,626.1 1593.4,612.7 1595.2,608.8 1597.0,594.2 1598.8,590.4 1600.6,576.2 1602.4,574.8 1604.2,559.1 1606.0,553.5 1607.8,552.1 1609.6,550.7 1611.4,539.2 1613.2,539.8 1615.0,539.7 1616.8,537.7 1618.6,531.5 1620.4,533.8 1622.5,533.0 1624.0,538.4 1625.8,547.8 1627.6,552.2 1629.4,561.3 1631.2,583.0 1633.0,601.0 1634.8,609.0 1636.6,624.0 1638.4,630.5 1640.2,638.6 1642.0,657.8 1643.8,664.2 1645.6,673.6 1647.4,670.3 1649.2,681.5 1651.0,682.8 1652.8,692.8 1654.6,690.8 1656.4,693.9 1658.2,696.6 1660.0,706.2 1661.8,702.4 1663.6,699.7 1665.4,699.1 1667.2,699.4 1669.0,710.1 1670.8,697.0 1672.6,701.3 1674.4,707.7 1676.2,710.2 1678.0,705.0 1679.8,709.0 1681.6,709.1 1683.4,710.2 1685.2,706.4 1687.0,713.1 1688.8,707.3 1690.6,712.8 1692.4,702.1 1694.2,710.4 1696.0,701.3 1697.8,700.0 1699.6,707.9 1701.4,702.2 1703.2,707.1 1705.0,700.6 1706.8,711.4 1708.6,704.8 1710.4,702.4 1712.2,712.9 1714.0,721.0 1715.8,717.0 1717.6,722.3 1719.4,727.8 1721.2,723.8 1723.0,720.2 1724.8,717.9 1726.6,722.6 1728.4,714.0 1730.2,712.2 1732.0,717.5 1733.8,715.8 1735.6,727.4 1737.4,720.8 1739.2,716.2 1741.0,715.5 1742.8,722.3 1744.6,716.8 1746.4,717.9 1748.2,719.9 1750.0,720.6 1751.8,720.7 1753.6,720.7 1755.4,725.6 1757.2,727.3 1759.0,713.5 1760.8,727.8 1762.6,720.8 1764.4,725.4 1766.2,717.3 1768.0,721.6 1769.8,721.2 1771.6,720.8 1773.4,723.8 1775.2,723.0 1777.0,716.3 1778.8,720.0 1780.6,723.6 1782.4,723.5 1784.2,719.5 1786.0,719.8 1787.8,720.5 1789.6,716.7 1791.4,716.1 1793.2,727.9 1795.0,720.0 1796.8,722.1 1798.6,718.8 1800.4,727.3 1802.2,729.2 1804.0,721.2 1805.8,724.3 1807.6,719.2 1809.4,729.5 1811.2,726.1 1813.0,718.9 1814.8,727.4 1816.6,723.8 1818.4,724.0 1820.2,723.8 1822.0,719.6 1823.8,720.1 1825.6,724.9 1827.4,722.1 1829.2,718.4 1831.0,729.8 1832.8,721.4 1834.6,720.0 1836.4,719.4 1838.2,725.1 1840.0,726.3 1841.8,723.3 1843.6,725.8 1845.4,716.1 1847.2,720.8 1849.0,720.4 1850.8,722.3 1852.6,724.3 1854.4,714.2 1856.2,729.7 1858.0,718.5 1859.8,723.4 1861.6,725.3 1863.4,725.3 1865.2,722.7 1867.0,713.5 1868.8,716.9 1870.6,724.4 1872.4,717.3 1874.2,716.6 1876.0,712.7 1877.8,725.5 1879.6,722.4 1881.4,716.4 1883.2,719.3 1885.0,719.2 1886.8,714.8 1888.6,718.0 1890.4,719.8 1892.2,720.6 1894.0,723.0 1895.8,717.3 1897.6,714.6 1899.4,717.4 1901.2,712.5 1903.0,709.2 1904.8,718.4 1906.6,711.6 1908.4,713.1 1910.2,714.9 1912.0,707.5 1913.8,714.5 1915.6,713.5 1917.4,711.1 1919.2,712.9 1921.0,708.1 1922.8,703.2 1924.6,709.7 1926.4,707.1 1928.2,714.3 1930.0,711.7 1931.8,708.4 1933.6,710.8 1935.4,716.4 1937.2,717.5 1939.0,717.4 1940.8,720.8 1942.6,720.3 1944.4,721.5 1946.2,724.5 1948.0,721.6 1949.8,723.3 1951.6,717.5 1953.4,715.2 1955.2,715.1 1957.0,720.3 1958.8,727.5 1960.6,726.9 1962.4,718.0 1964.2,715.7 1966.0,725.3 1967.8,724.0 1969.6,716.5 1971.4,726.4 1973.2,722.8 1975.0,727.5 1976.8,723.5 1978.6,725.7 1980.4,723.4 1982.2,718.2 1984.0,721.1 1985.8,719.1 1987.6,724.7 1989.4,716.3 1991.2,713.0 1993.0,720.8 1994.8,721.3 1996.6,721.0 1998.4,718.1 2000.2,705.9 2002.0,707.9 2003.8,707.2 2005.6,708.0 2007.4,698.7 2009.2,705.0 2011.0,704.6 2012.8,698.1 2014.6,701.3 2016.4,704.7 2018.2,699.3 2020.0,703.2 2021.8,702.7 2023.6,700.0 2025.4,699.6 2027.2,696.3 2029.0,702.7 2030.8,695.5 2032.6,694.4 2034.4,700.1 2036.2,694.1 2038.0,698.8 2039.8,701.4 2041.6,697.8 2043.4,698.8 2045.2,703.5 2047.0,704.4 2048.8,696.7 2050.6,699.3 2052.4,711.6 2054.2,709.0 2056.0,700.7 2057.8,704.2 2059.6,711.0 2061.4,708.1 2063.2,715.2 2065.0,714.7 2066.8,717.4 2068.6,711.6 2070.4,719.9 2072.2,725.9 2074.0,715.7 2075.8,725.2 2077.6,724.6 2079.4,723.9 2081.2,721.7 2083.0,718.0 2084.8,719.8 2086.6,727.2 2088.4,728.7 2090.2,730.3 2092.0,729.7 2093.8,730.0 2095.6,725.0 2097.4,722.3 2099.2,728.5 2101.0,730.1 2102.8,728.7 2104.6,722.4 2106.4,726.8 2108.2,723.1 2110.0,730.0 2111.8,725.4 2113.6,729.2 2115.4,731.5 2117.2,730.9 2119.0,736.2 2120.8,726.2 2122.6,723.1 2124.4,735.1 2126.2,737.2 2128.0,737.5 2129.8,733.1 2131.6,734.4 2133.4,733.0 2135.2,727.5 2137.0,730.8 2138.8,735.6 2140.6,731.7 2142.4,742.3 2144.2,729.0 2146.0,734.1 2147.8,741.0 2149.6,734.3 2151.4,732.4 2153.2,731.5 2155.0,734.1 2156.8,743.1 2158.6,738.3 2160.4,738.4 2162.2,733.8 2164.0,739.0 2165.8,735.6 2167.6,730.9 2169.4,732.4 2171.2,734.6 2173.0,738.2 2174.8,732.8 2176.6,734.8 2178.4,740.1 2180.2,729.0 2182.0,727.1 2183.8,736.2 2185.6,733.9 2187.4,731.8 2189.2,733.3 2191.0,730.9 2192.8,734.4 2194.6,730.9 2196.4,735.7 2198.2,727.6 2200.0,729.1 2201.8,733.0 2203.6,730.7 2205.4,735.6 2207.2,732.6 2209.0,730.7 2210.8,733.8 2212.6,730.9 2214.4,726.8 2216.2,728.6 2218.0,730.1 2219.8,731.6 2221.6,734.1 2223.4,737.7 2225.2,736.4 2227.0,741.6 2228.8,739.8 2230.6,734.1 2232.4,741.9 2234.2,740.2 2236.0,733.8 2237.8,737.3 2239.6,740.8 2241.4,737.6 2243.2,741.1 2245.0,738.9 2246.8,740.6 2248.6,736.7 2250.4,740.0 2252.2,737.3 2254.0,742.0 2255.8,732.6 2257.6,741.3 2259.4,745.5 2261.2,743.1 2263.0,741.0" fill="none" stroke="#0000ff" stroke-width="12" stroke-linejoin="round" stroke-linecap="butt"/>
<clipPath id="clip-red"><rect x="82.7" y="0" width="2177.3" height="1780"/></clipPath>
<polyline clip-path="url(#clip-red)" points="72.7,975.6 74.5,973.7 76.3,973.4 78.1,970.2 79.9,976.1 81.7,974.3 83.5,971.0 85.3,972.1 87.1,970.8 88.9,969.1 90.7,971.8 92.5,970.1 94.3,971.3 96.1,972.1 97.9,976.3 99.7,977.5 101.5,980.9 103.3,981.1 105.1,984.5 106.9,984.6 108.7,989.0 110.5,988.8 112.3,989.8 114.1,990.6 115.9,988.7 117.7,992.4 119.5,995.0 121.3,989.6 123.1,990.4 124.9,992.0 126.7,997.4 128.5,997.6 130.3,1000.7 132.1,1001.7 133.9,1002.4 135.7,1004.2 137.5,1005.0 139.3,1008.4 141.1,1006.3 142.9,1008.9 144.7,1011.5 146.5,1015.6 148.3,1012.5 150.1,1013.3 151.9,1015.6 153.7,1019.6 155.5,1018.7 157.3,1022.7 159.1,1018.3 160.9,1024.7 162.7,1025.6 164.5,1022.4 166.3,1026.1 168.1,1028.9 169.9,1027.8 171.7,1030.2 173.5,1032.6 175.3,1030.6 177.1,1030.4 178.9,1030.4 180.7,1033.7 182.5,1033.0 184.3,1033.8 186.1,1034.8 187.9,1037.1 189.7,1035.1 191.5,1035.3 193.3,1035.7 195.1,1042.1 196.9,1041.0 198.7,1044.3 200.5,1042.3 202.3,1041.4 204.1,1043.8 205.9,1042.8 207.7,1039.9 209.5,1039.3 211.3,1042.6 213.1,1039.1 214.9,1038.7 216.7,1037.9 218.5,1038.3 220.3,1042.7 222.1,1042.9 223.9,1043.9 225.7,1047.1 227.5,1047.7 229.3,1051.2 231.1,1053.8 232.9,1050.9 234.7,1055.3 236.5,1052.0 238.3,1053.7 240.1,1052.3 241.9,1053.6 243.7,1054.3 245.5,1053.6 247.3,1053.4 249.1,1053.6 250.9,1053.6 252.7,1052.5 254.5,1055.0 256.3,1056.4 258.1,1057.6 259.9,1057.5 261.7,1060.1 263.5,1057.8 265.3,1056.9 267.1,1061.5 268.9,1056.9 270.7,1060.9 272.5,1058.0 274.3,1060.7 276.1,1057.1 277.9,1062.3 279.7,1060.6 281.5,1059.3 283.3,1063.9 285.1,1062.0 286.9,1060.3 288.7,1058.3 290.5,1058.9 292.3,1058.0 294.1,1058.9 295.9,1058.4 297.7,1055.3 299.5,1055.2 301.3,1055.1 303.1,1053.8 304.9,1055.4 306.7,1056.9 308.5,1058.9 310.3,1060.8 312.1,1057.8 313.9,1060.9 315.7,1059.8 317.5,1064.3 319.3,1061.1 321.1,1062.2 322.9,1059.8 324.7,1060.2 326.5,1062.1 328.3,1061.2 330.1,1062.5 331.9,1059.3 333.7,1063.2 335.5,1060.6 337.3,1065.3 339.1,1061.8 340.9,1064.4 342.7,1060.1 344.5,1063.5 346.3,1061.3 348.1,1062.2 349.9,1063.4 351.7,1063.2 353.5,1064.7 355.3,1066.1 357.1,1066.4 358.9,1065.5 360.7,1063.5 362.5,1064.6 364.3,1065.6 366.1,1062.4 367.9,1066.8 369.7,1064.7 371.5,1064.3 373.3,1066.0 375.1,1065.2 376.9,1064.0 378.7,1061.6 380.5,1063.7 382.3,1063.6 384.1,1061.5 385.9,1064.9 387.7,1064.2 389.5,1060.1 391.3,1063.9 393.1,1061.6 394.9,1065.9 396.7,1065.4 398.5,1061.9 400.3,1061.7 402.1,1062.6 403.9,1060.9 405.7,1062.7 407.5,1059.9 409.3,1056.6 411.1,1056.6 412.9,1050.8 414.7,1053.2 416.5,1052.7 418.3,1049.3 420.1,1046.4 421.9,1046.2 423.7,1045.5 425.5,1037.7 427.3,1027.0 429.1,1020.1 430.9,1000.5 432.7,983.9 434.5,952.8 436.3,925.3 438.1,889.4 439.9,865.5 441.7,841.9 442.8,836.3 445.3,853.6 447.1,874.3 448.9,895.6 450.7,912.9 452.5,934.1 454.3,954.9 456.1,975.6 457.9,991.3 459.7,1006.9 461.5,1018.4 463.3,1032.3 465.1,1038.2 466.9,1037.8 468.7,1046.8 470.5,1047.6 472.3,1047.8 474.1,1047.4 475.9,1053.8 477.7,1055.5 479.5,1055.2 481.3,1054.8 483.1,1061.4 484.9,1059.6 486.7,1060.8 488.5,1065.6 490.3,1065.8 492.1,1064.0 493.9,1061.1 495.7,1062.3 497.5,1056.8 499.3,1059.1 501.1,1056.0 502.9,1052.7 504.7,1046.2 506.5,1042.4 508.3,1035.2 510.1,1028.8 512.0,1025.0 513.7,1027.0 515.5,1031.6 517.3,1035.6 519.1,1042.5 520.9,1048.9 522.7,1051.3 524.5,1055.9 526.3,1054.7 528.1,1057.2 529.9,1057.8 531.7,1057.9 533.5,1064.1 535.3,1063.1 537.1,1060.9 538.9,1061.5 540.7,1063.3 542.5,1061.5 544.3,1065.4 546.1,1063.0 547.9,1065.1 549.7,1064.4 551.5,1065.7 553.3,1064.5 555.1,1064.2 556.9,1065.3 558.7,1065.5 560.5,1065.6 562.3,1065.4 564.1,1067.0 565.9,1064.7 567.7,1061.6 569.5,1062.2 571.3,1058.5 573.1,1061.1 574.9,1058.5 576.7,1054.3 578.5,1057.3 580.3,1056.8 582.1,1051.5 583.9,1052.9 585.7,1052.8 587.5,1049.6 589.3,1050.2 591.1,1049.3 592.9,1050.6 594.7,1047.9 596.5,1044.7 598.3,1032.4 600.1,1026.3 601.9,1017.0 603.7,1012.3 605.5,1005.7 607.3,1001.6 609.1,1001.7 610.9,1002.9 612.7,1002.6 614.5,998.1 616.3,991.6 618.1,979.1 619.9,969.6 621.7,948.2 623.5,904.9 625.3,845.5 627.1,771.9 628.9,691.7 630.7,598.8 632.5,505.7 634.3,416.9 635.5,393.0 637.9,475.5 639.7,509.8 641.5,551.6 643.3,603.4 645.1,688.7 646.9,819.5 648.7,858.6 650.5,895.6 652.3,923.7 654.1,946.9 655.9,973.0 657.7,991.9 659.5,1013.8 661.3,1021.6 663.1,1030.0 664.2,1031.5 666.7,1026.9 668.5,1018.5 670.3,1015.2 672.1,1010.1 674.5,1003.5 675.7,1005.2 677.5,1009.9 679.3,1018.9 681.1,1025.7 682.9,1030.7 684.7,1039.6 686.5,1039.8 688.3,1039.1 690.1,1037.0 691.9,1040.2 693.7,1037.0 695.5,1039.6 697.3,1042.0 699.1,1048.6 700.9,1052.0 702.7,1052.5 704.5,1057.1 706.3,1061.9 708.1,1060.9 709.9,1068.0 711.7,1069.1 713.5,1069.5 715.3,1068.3 717.1,1069.9 718.9,1068.0 720.7,1070.6 722.5,1070.0 724.3,1071.6 726.1,1071.0 727.9,1072.7 729.7,1074.6 731.5,1070.5 733.3,1074.6 735.1,1069.8 736.9,1070.0 738.7,1073.2 740.5,1073.6 742.3,1074.5 744.1,1071.0 745.9,1073.9 747.7,1074.3 749.5,1076.4 751.3,1074.1 753.1,1075.3 754.9,1072.7 756.7,1074.2 758.5,1073.8 760.3,1075.9 762.1,1073.0 763.9,1073.4 765.7,1075.9 767.5,1078.1 769.3,1075.7 771.1,1075.6 772.9,1074.6 774.7,1077.2 776.5,1076.3 778.3,1078.4 780.1,1076.0 781.9,1073.9 783.7,1074.6 785.5,1074.0 787.3,1073.6 789.1,1078.0 790.9,1077.3 792.7,1073.8 794.5,1079.2 796.3,1076.5 798.1,1074.5 799.9,1076.9 801.7,1076.2 803.5,1075.0 805.3,1073.1 807.1,1076.6 808.9,1077.1 810.7,1073.3 812.5,1077.7 814.3,1077.8 816.1,1076.0 817.9,1077.1 819.7,1076.4 821.5,1075.5 823.3,1076.4 825.1,1079.4 826.9,1074.6 828.7,1077.6 830.5,1077.5 832.3,1076.0 834.1,1076.5 835.9,1074.9 837.7,1075.8 839.5,1077.4 841.3,1078.0 843.1,1075.8 844.9,1080.8 846.7,1076.5 848.5,1077.7 850.3,1077.1 852.1,1076.8 853.9,1079.8 855.7,1076.7 857.5,1079.8 859.3,1079.4 861.1,1075.4 862.9,1078.8 864.7,1075.5 866.5,1079.6 868.3,1075.2 870.1,1073.8 871.9,1071.6 873.7,1072.1 875.5,1072.8 877.3,1071.5 879.1,1070.5 880.9,1070.7 882.7,1070.6 884.5,1072.4 886.3,1065.6 888.1,1066.1 889.9,1063.6 891.7,1060.3 893.5,1056.7 895.3,1052.0 897.1,1048.9 898.9,1041.0 900.7,1032.8 902.5,1025.4 904.3,1012.6 906.1,1001.6 907.9,994.6 909.7,987.3 911.5,990.8 913.3,996.3 915.1,1003.3 916.9,1012.2 918.7,1028.4 920.5,1034.8 922.3,1045.4 924.1,1047.2 925.9,1055.2 927.7,1057.8 929.5,1062.9 931.3,1066.5 933.1,1065.9 934.9,1069.1 936.7,1071.4 938.5,1072.8 940.3,1074.8 942.1,1076.4 943.9,1076.5 945.7,1075.8 947.5,1074.9 949.3,1073.8 951.1,1074.7 952.9,1075.3 954.7,1077.6 956.5,1076.0 958.3,1074.6 960.1,1078.0 961.9,1075.7 963.7,1075.9 965.5,1076.9 967.3,1078.3 969.1,1074.2 970.9,1075.7 972.7,1078.0 974.5,1077.1 976.3,1076.3 978.1,1076.9 979.9,1080.4 981.7,1077.2 983.5,1079.2 985.3,1079.4 987.1,1077.2 988.9,1078.8 990.7,1077.2 992.5,1076.9 994.3,1076.0 996.1,1079.5 997.9,1077.3 999.7,1077.0 1001.5,1076.0 1003.3,1081.1 1005.1,1079.3 1006.9,1077.7 1008.7,1076.7 1010.5,1075.3 1012.3,1078.5 1014.1,1078.4 1015.9,1075.5 1017.7,1079.9 1019.5,1079.3 1021.3,1076.2 1023.1,1076.9 1024.9,1077.1 1026.7,1078.1 1028.5,1077.6 1030.3,1074.9 1032.1,1080.4 1033.9,1078.3 1035.7,1080.0 1037.5,1079.9 1039.3,1077.3 1041.1,1078.3 1042.9,1078.9 1044.7,1079.0 1046.5,1077.3 1048.3,1076.5 1050.1,1077.6 1051.9,1076.1 1053.7,1076.5 1055.5,1074.0 1057.3,1077.2 1059.1,1074.9 1060.9,1075.3 1062.7,1075.6 1064.5,1075.7 1066.3,1078.0 1068.1,1074.5 1069.9,1071.2 1071.7,1073.4 1073.5,1071.8 1075.3,1073.1 1077.1,1070.7 1078.9,1070.3 1080.7,1070.3 1082.5,1069.9 1084.3,1067.9 1086.1,1070.4 1087.9,1072.5 1089.7,1075.7 1091.5,1074.3 1093.3,1075.2 1095.1,1077.7 1096.9,1078.0 1098.7,1080.0 1100.5,1078.3 1102.3,1077.4 1104.1,1079.9 1105.9,1080.4 1107.7,1077.0 1109.5,1078.2 1111.3,1075.1 1113.1,1077.5 1114.9,1076.7 1116.7,1077.9 1118.5,1077.5 1120.3,1078.2 1122.1,1078.3 1123.9,1079.4 1125.7,1079.0 1127.5,1077.7 1129.3,1076.5 1131.1,1080.9 1132.9,1081.3 1134.7,1078.1 1136.5,1079.9 1138.3,1076.3 1140.1,1076.2 1141.9,1078.5 1143.7,1081.6 1145.5,1077.2 1147.3,1077.5 1149.1,1081.8 1150.9,1075.7 1152.7,1080.1 1154.5,1079.9 1156.3,1078.6 1158.1,1079.3 1159.9,1082.3 1161.7,1077.0 1163.5,1078.5 1165.3,1078.6 1167.1,1077.8 1168.9,1076.7 1170.7,1081.8 1172.5,1079.4 1174.3,1075.9 1176.1,1077.8 1177.9,1079.7 1179.7,1079.7 1181.5,1076.5 1183.3,1078.8 1185.1,1079.4 1186.9,1079.7 1188.7,1079.6 1190.5,1075.8 1192.3,1082.2 1194.1,1079.3 1195.9,1082.0 1197.7,1082.2 1199.5,1078.6 1201.3,1076.6 1203.1,1080.3 1204.9,1078.4 1206.7,1077.9 1208.5,1076.9 1210.3,1081.6 1212.1,1077.8 1213.9,1076.1 1215.7,1077.7 1217.5,1076.4 1219.3,1078.6 1221.1,1077.5 1222.9,1076.4 1224.7,1079.2 1226.5,1076.9 1228.3,1079.3 1230.1,1080.1 1231.9,1077.2 1233.7,1076.6 1235.5,1078.0 1237.3,1079.1 1239.1,1077.4 1240.9,1077.5 1242.7,1077.1 1244.5,1077.6 1246.3,1078.0 1248.1,1075.2 1249.9,1074.8 1251.7,1074.7 1253.5,1072.2 1255.3,1072.0 1257.1,1071.0 1258.9,1068.1 1260.7,1065.1 1262.5,1062.0 1264.3,1062.4 1266.1,1055.9 1267.9,1046.9 1269.7,1041.7 1271.5,1040.8 1273.3,1034.4 1275.1,1025.4 1276.9,1020.5 1278.7,1010.3 1280.5,1009.1 1282.3,1007.5 1284.1,1001.3 1285.9,1004.1 1287.7,1010.1 1289.5,1015.0 1291.3,1017.8 1293.1,1027.4 1294.9,1038.1 1296.7,1041.5 1298.5,1044.7 1300.3,1051.5 1302.1,1055.1 1303.9,1061.8 1305.7,1062.9 1307.5,1063.6 1309.3,1069.8 1311.1,1066.9 1312.9,1069.8 1314.7,1071.3 1316.5,1072.5 1318.3,1072.4 1320.1,1073.9 1321.9,1073.5 1323.7,1071.7 1325.5,1074.2 1327.3,1074.5 1329.1,1074.7 1330.9,1075.2 1332.7,1073.9 1334.5,1077.2 1336.3,1077.5 1338.1,1071.3 1339.9,1074.5 1341.7,1073.1 1343.5,1070.8 1345.3,1074.7 1347.1,1072.6 1348.9,1072.5 1350.7,1071.5 1352.5,1073.9 1354.3,1073.4 1356.1,1071.0 1357.9,1071.0 1359.7,1068.9 1361.5,1068.7 1363.3,1066.5 1365.1,1067.2 1366.9,1065.2 1368.7,1066.4 1370.5,1066.5 1372.3,1064.8 1374.1,1065.5 1375.9,1065.9 1377.7,1058.3 1379.5,1060.6 1381.3,1058.4 1383.1,1057.1 1384.9,1053.6 1386.7,1053.5 1388.5,1049.5 1390.3,1043.9 1392.1,1037.6 1393.9,1028.2 1395.7,1015.8 1397.5,1009.1 1399.3,990.5 1401.1,970.1 1402.9,948.0 1404.7,920.4 1406.5,895.0 1408.3,878.6 1410.1,863.5 1411.9,870.9 1413.7,889.1 1415.5,912.6 1417.3,930.1 1419.1,945.2 1420.9,959.2 1422.7,973.7 1424.5,988.1 1426.3,999.6 1428.1,1006.7 1429.9,1013.7 1431.7,1025.6 1433.5,1031.9 1435.3,1040.1 1437.1,1047.9 1438.9,1056.7 1440.7,1061.9 1442.5,1066.0 1444.3,1068.9 1446.1,1069.4 1447.9,1066.7 1449.7,1068.2 1451.5,1072.1 1453.3,1072.2 1455.1,1076.0 1456.9,1073.0 1458.7,1073.1 1460.5,1075.3 1462.3,1075.8 1464.1,1073.8 1465.9,1075.3 1467.7,1072.7 1469.5,1073.2 1471.3,1077.2 1473.1,1072.7 1474.9,1076.9 1476.7,1076.6 1478.5,1076.8 1480.3,1077.1 1482.1,1076.5 1483.9,1072.2 1485.7,1073.7 1487.5,1074.4 1489.3,1077.0 1491.1,1073.4 1492.9,1074.1 1494.7,1074.7 1496.5,1077.6 1498.3,1072.7 1500.1,1072.7 1501.9,1076.1 1503.7,1071.6 1505.5,1075.5 1507.3,1074.0 1509.1,1071.9 1510.9,1073.9 1512.7,1072.7 1514.5,1074.7 1516.3,1074.9 1518.1,1076.8 1519.9,1074.0 1521.7,1074.1 1523.5,1072.8 1525.3,1073.7 1527.1,1075.4 1528.9,1070.1 1530.7,1074.4 1532.5,1072.1 1534.3,1073.0 1536.1,1073.2 1537.9,1073.9 1539.7,1072.6 1541.5,1071.3 1543.3,1072.2 1545.1,1071.4 1546.9,1070.8 1548.7,1071.2 1550.5,1072.1 1552.3,1070.5 1554.1,1070.2 1555.9,1067.3 1557.7,1069.0 1559.5,1065.6 1561.3,1069.8 1563.1,1066.5 1564.9,1070.0 1566.7,1070.6 1568.5,1066.1 1570.3,1068.6 1572.1,1066.4 1573.9,1064.0 1575.7,1062.8 1577.5,1064.4 1579.3,1064.8 1581.1,1061.8 1582.9,1056.8 1584.7,1055.2 1586.5,1053.6 1588.3,1052.8 1590.1,1045.9 1591.9,1038.6 1593.7,1030.7 1595.5,1017.2 1597.3,1003.7 1599.1,985.0 1600.9,960.7 1602.7,939.4 1604.5,913.4 1606.3,889.8 1608.1,863.6 1609.9,846.7 1611.5,838.0 1613.5,848.6 1615.3,864.8 1617.1,881.2 1618.9,907.6 1620.7,925.1 1622.5,944.4 1624.3,958.7 1626.1,974.2 1627.9,986.6 1629.7,995.6 1631.5,999.9 1633.3,1012.8 1635.1,1020.1 1636.9,1025.8 1638.7,1034.1 1640.5,1042.8 1642.3,1049.7 1644.1,1052.4 1645.9,1054.3 1647.7,1061.0 1649.5,1063.5 1651.3,1068.6 1653.1,1064.8 1654.9,1072.1 1656.7,1073.4 1658.5,1072.3 1660.3,1075.9 1662.1,1074.1 1663.9,1076.3 1665.7,1073.7 1667.5,1075.1 1669.3,1073.2 1671.1,1072.1 1672.9,1074.2 1674.7,1073.3 1676.5,1075.2 1678.3,1076.2 1680.1,1073.4 1681.9,1073.6 1683.7,1073.5 1685.5,1070.0 1687.3,1073.2 1689.1,1072.5 1690.9,1072.2 1692.7,1070.2 1694.5,1068.7 1696.3,1071.6 1698.1,1072.6 1699.9,1074.9 1701.7,1075.2 1703.5,1076.7 1705.3,1075.8 1707.1,1078.2 1708.9,1076.6 1710.7,1078.7 1712.5,1079.4 1714.3,1081.1 1716.1,1078.3 1717.9,1075.6 1719.7,1080.3 1721.5,1076.5 1723.3,1077.8 1725.1,1077.4 1726.9,1076.3 1728.7,1080.3 1730.5,1079.0 1732.3,1076.9 1734.1,1078.1 1735.9,1077.2 1737.7,1079.1 1739.5,1077.3 1741.3,1076.6 1743.1,1076.9 1744.9,1077.2 1746.7,1078.5 1748.5,1076.4 1750.3,1077.8 1752.1,1078.8 1753.9,1081.3 1755.7,1079.5 1757.5,1074.7 1759.3,1077.1 1761.1,1077.3 1762.9,1078.6 1764.7,1080.7 1766.5,1079.3 1768.3,1074.7 1770.1,1078.5 1771.9,1078.2 1773.7,1078.7 1775.5,1080.4 1777.3,1076.1 1779.1,1079.9 1780.9,1075.1 1782.7,1078.1 1784.5,1078.7 1786.3,1081.3 1788.1,1076.8 1789.9,1075.0 1791.7,1079.2 1793.5,1076.8 1795.3,1080.7 1797.1,1076.8 1798.9,1076.5 1800.7,1080.2 1802.5,1078.1 1804.3,1079.8 1806.1,1075.5 1807.9,1080.9 1809.7,1076.7 1811.5,1078.4 1813.3,1074.0 1815.1,1071.7 1816.9,1072.4 1818.7,1071.6 1820.5,1072.7 1822.3,1069.3 1824.1,1068.6 1825.4,1068.0 1827.7,1070.4 1829.5,1068.0 1831.3,1072.9 1833.1,1072.0 1834.9,1074.2 1836.7,1074.3 1838.5,1078.6 1840.3,1075.3 1842.1,1075.7 1843.9,1077.6 1845.7,1076.0 1847.5,1079.2 1849.3,1079.6 1851.1,1076.6 1852.9,1079.3 1854.7,1076.7 1856.5,1077.8 1858.3,1077.8 1860.1,1081.1 1861.9,1077.7 1863.7,1076.1 1865.5,1076.0 1867.3,1079.7 1869.1,1074.6 1870.9,1076.6 1872.7,1076.7 1874.5,1073.9 1876.3,1076.3 1878.1,1078.8 1879.9,1077.3 1881.7,1075.2 1883.5,1077.9 1885.3,1077.5 1887.1,1079.7 1888.9,1075.0 1890.7,1075.4 1892.5,1076.0 1894.3,1075.2 1896.1,1074.8 1897.9,1073.4 1899.7,1071.1 1901.5,1068.1 1903.3,1068.4 1905.1,1065.5 1906.9,1064.0 1908.7,1062.3 1910.5,1061.4 1912.3,1059.1 1914.6,1057.0 1915.9,1057.5 1917.7,1059.5 1919.5,1060.1 1921.3,1059.4 1923.1,1061.0 1924.9,1067.3 1926.7,1068.8 1928.5,1069.0 1930.3,1067.9 1932.1,1073.4 1933.9,1074.1 1935.7,1072.9 1937.5,1073.4 1939.3,1071.2 1941.1,1076.5 1942.9,1073.0 1944.7,1077.7 1946.5,1078.4 1948.3,1077.8 1950.1,1081.0 1951.9,1078.1 1953.7,1080.2 1955.5,1080.9 1957.3,1080.2 1959.1,1079.2 1960.9,1082.1 1962.7,1080.7 1964.5,1079.6 1966.3,1079.6 1968.1,1080.1 1969.9,1083.1 1971.7,1079.8 1973.5,1079.1 1975.3,1077.5 1977.1,1077.1 1978.9,1075.8 1980.7,1079.2 1982.5,1078.6 1984.3,1076.5 1986.1,1075.4 1987.9,1077.2 1989.7,1076.5 1991.5,1074.7 1993.3,1077.2 1995.1,1076.4 1996.9,1075.6 1998.7,1076.6 2000.5,1073.6 2002.3,1076.6 2004.1,1071.5 2005.9,1071.9 2007.7,1068.7 2009.5,1063.2 2011.3,1060.1 2013.1,1052.8 2014.9,1046.1 2016.7,1042.1 2018.5,1037.3 2019.8,1036.5 2022.1,1039.0 2023.9,1044.2 2025.7,1048.6 2027.5,1052.5 2029.3,1055.1 2031.1,1057.2 2032.9,1059.6 2034.7,1065.4 2036.5,1059.4 2038.3,1062.1 2040.1,1064.2 2041.9,1063.2 2043.7,1064.9 2045.5,1063.4 2047.3,1060.2 2049.1,1061.9 2050.9,1060.0 2052.7,1064.2 2054.5,1065.0 2056.3,1061.7 2058.1,1063.5 2059.9,1062.5 2061.7,1061.8 2063.5,1065.0 2065.3,1064.7 2067.1,1068.4 2068.9,1071.8 2070.7,1074.7 2072.5,1077.6 2074.3,1076.4 2076.1,1078.8 2077.9,1080.1 2079.7,1080.9 2081.5,1076.8 2083.3,1078.8 2085.1,1081.6 2086.9,1078.4 2088.7,1080.8 2090.5,1082.0 2092.3,1077.3 2094.1,1080.3 2095.9,1081.1 2097.7,1080.8 2099.5,1078.2 2101.3,1081.5 2103.1,1080.0 2104.9,1082.5 2106.7,1081.8 2108.5,1080.2 2110.3,1081.5 2112.1,1080.0 2113.9,1080.0 2115.7,1078.5 2117.5,1080.9 2119.3,1082.8 2121.1,1081.6 2122.9,1081.4 2124.7,1080.3 2126.5,1080.5 2128.3,1082.7 2130.1,1078.8 2131.9,1084.9 2133.7,1081.3 2135.5,1084.9 2137.3,1083.5 2139.1,1080.7 2140.9,1082.7 2142.7,1081.9 2144.5,1082.2 2146.3,1082.8 2148.1,1080.4 2149.9,1080.3 2151.7,1080.6 2153.5,1078.9 2155.3,1080.8 2157.1,1081.6 2158.9,1081.6 2160.7,1081.4 2162.5,1080.4 2164.3,1082.4 2166.1,1077.8 2167.9,1080.2 2169.7,1080.2 2171.5,1082.3 2173.3,1081.8 2175.1,1081.9 2176.9,1080.4 2178.7,1082.0 2180.5,1078.4 2182.3,1080.2 2184.1,1076.9 2185.9,1082.8 2187.7,1082.4 2189.5,1077.9 2191.3,1076.2 2193.1,1073.1 2194.9,1071.9 2196.7,1073.4 2198.5,1072.2 2200.5,1072.0 2202.1,1071.8 2203.9,1072.0 2205.7,1075.0 2207.5,1076.9 2209.3,1076.8 2211.1,1078.7 2212.9,1079.4 2214.7,1076.8 2216.5,1080.4 2218.3,1080.3 2220.1,1081.9 2221.9,1077.8 2223.7,1082.4 2225.5,1080.2 2227.3,1082.0 2229.1,1083.8 2230.9,1079.3 2232.7,1079.8 2234.5,1083.9 2236.3,1080.4 2238.1,1080.8 2239.9,1083.7 2241.7,1082.4 2243.5,1084.2 2245.3,1083.4 2247.1,1082.9 2248.9,1084.8 2250.7,1086.7 2252.5,1083.0 2254.3,1085.8 2256.1,1085.2 2257.9,1083.4 2259.7,1084.1 2261.5,1081.6 2263.3,1082.2 2265.1,1083.8 2266.9,1083.2 2268.7,1085.6" fill="none" stroke="#ff0000" stroke-width="12" stroke-linejoin="round" stroke-linecap="butt"/>
</g>
<g id="axis">
<path d="M77.4,1825 V1791 H2254.2 V1825" fill="none" stroke="#000" stroke-width="12" stroke-linecap="round" stroke-linejoin="round"/>
<line x1="440.2" y1="1791" x2="440.2" y2="1825" stroke="#000" stroke-width="12" stroke-linecap="round"/>
<line x1="803.0" y1="1791" x2="803.0" y2="1825" stroke="#000" stroke-width="12" stroke-linecap="round"/>
<line x1="1165.8" y1="1791" x2="1165.8" y2="1825" stroke="#000" stroke-width="12" stroke-linecap="round"/>
<line x1="1528.6" y1="1791" x2="1528.6" y2="1825" stroke="#000" stroke-width="12" stroke-linecap="round"/>
<line x1="1891.4" y1="1791" x2="1891.4" y2="1825" stroke="#000" stroke-width="12" stroke-linecap="round"/>
<line x1="258.8" y1="1791" x2="258.8" y2="1809" stroke="#000" stroke-width="12" stroke-linecap="round"/>
<line x1="621.6" y1="1791" x2="621.6" y2="1809" stroke="#000" stroke-width="12" stroke-linecap="round"/>
<line x1="984.4" y1="1791" x2="984.4" y2="1809" stroke="#000" stroke-width="12" stroke-linecap="round"/>
<line x1="1347.2" y1="1791" x2="1347.2" y2="1809" stroke="#000" stroke-width="12" stroke-linecap="round"/>
<line x1="1710.0" y1="1791" x2="1710.0" y2="1809" stroke="#000" stroke-width="12" stroke-linecap="round"/>
<line x1="2072.8" y1="1791" x2="2072.8" y2="1809" stroke="#000" stroke-width="12" stroke-linecap="round"/>
</g>
<g id="ticklabels">
<text class="tick" transform="translate(76.2,1922.8) scale(1,1.014)" text-anchor="middle">20</text>
<text class="tick" transform="translate(439.0,1922.8) scale(1,1.014)" text-anchor="middle">30</text>
<text class="tick" transform="translate(801.8,1922.8) scale(1,1.014)" text-anchor="middle">40</text>
<text class="tick" transform="translate(1164.6,1922.8) scale(1,1.014)" text-anchor="middle">50</text>
<text class="tick" transform="translate(1527.4,1922.8) scale(1,1.014)" text-anchor="middle">60</text>
<text class="tick" transform="translate(1890.2,1922.8) scale(1,1.014)" text-anchor="middle">70</text>
<text class="tick" transform="translate(2253.0,1922.8) scale(1,1.014)" text-anchor="middle">80</text>
</g>
<defs><filter id="bold" x="-10%" y="-10%" width="120%" height="120%" filterUnits="objectBoundingBox"><feMorphology operator="dilate" radius="2 1"/></filter></defs>
<g id="marks">
<g filter="url(#bold)"><text class="mk" transform="translate(608.14,92.00) scale(0.9333,1.0343)" font-size="90.0">#</text></g>
<g filter="url(#bold)"><text class="mk" transform="translate(427.54,390.00) scale(0.9333,1.0343)" font-size="90.0">#</text></g>
<g filter="url(#bold)"><text class="mk" transform="translate(1272.74,626.00) scale(0.9333,1.0343)" font-size="90.0">#</text></g>
<g filter="url(#bold)"><text class="mk" transform="translate(1399.04,535.10) scale(0.9333,1.0343)" font-size="90.0">#</text></g>
<g filter="url(#bold)"><text class="mk" transform="translate(421.24,812.00) scale(0.9333,1.0343)" font-size="90.0">#</text></g>
<g filter="url(#bold)"><text class="mk" transform="translate(1265.74,988.00) scale(0.9333,1.0343)" font-size="90.0">#</text></g>
<g filter="url(#bold)"><text class="mk" transform="translate(1386.94,849.40) scale(0.9333,1.0343)" font-size="90.0">#</text></g>
<g filter="url(#bold)"><text class="mk" transform="translate(420.74,1550.50) scale(0.9333,1.0343)" font-size="90.0">#</text></g>
<g filter="url(#bold)"><text class="mk" transform="translate(590.74,1369.00) scale(0.9333,1.0343)" font-size="90.0">#</text></g>
<g filter="url(#bold)"><text class="mk" transform="translate(1265.14,1634.00) scale(0.9333,1.0343)" font-size="90.0">#</text></g>
<g filter="url(#bold)"><text class="mk" transform="translate(1390.74,1354.70) scale(0.9333,1.0343)" font-size="90.0">#</text></g>
<g filter="url(#bold)"><text class="mk" transform="translate(1803.74,1511.00) scale(0.9333,1.0343)" font-size="90.0">#</text></g>
<text class="mk" x="894.7" y="649.3" font-size="80.0">*</text>
<text class="mk" x="1605.0" y="540.9" font-size="80.0">*</text>
<text class="mk" x="897.7" y="999.5" font-size="80.0">*</text>
<text class="mk" x="1598.6" y="841.4" font-size="80.0">*</text>
<text class="mk" x="891.7" y="1653.8" font-size="80.0">*</text>
<text class="mk" x="1069.6" y="1540.8" font-size="80.0">*</text>
<text class="mk" x="1624.0" y="1472.1" font-size="80.0">*</text>
</g>
<g id="legend">
<line x1="1460.9" y1="138.7" x2="1656.0" y2="138.7" stroke="#000" stroke-width="13" stroke-linecap="round"/>
<line x1="1457.1" y1="234.2" x2="1652.6" y2="234.2" stroke="#ff0000" stroke-width="12.6" stroke-linecap="round"/>
<line x1="1452.0" y1="326.4" x2="1647.5" y2="326.4" stroke="#0000ff" stroke-width="12.8" stroke-linecap="round"/>
<text class="lg" transform="translate(1673.7,168.9) scale(1,1.04)">85 ZnO-15 <tspan dx="0">Zn</tspan><tspan class="lgs" dy="19.1">2</tspan><tspan dy="-19.1">TiO</tspan><tspan class="lgs" dy="19.1">4</tspan></text>
<text class="lg" transform="translate(1675.7,264.0) scale(1,1.04)">75 ZnO-25 <tspan dx="-2.0">Zn</tspan><tspan class="lgs" dy="19.1">2</tspan><tspan dy="-19.1">TiO</tspan><tspan class="lgs" dy="19.1">4</tspan></text>
<text class="lg" transform="translate(1669.8,356.8) scale(1,1.04)">65 ZnO-35 <tspan dx="-1.8">Zn</tspan><tspan class="lgs" dy="19.1">2</tspan><tspan dy="-19.1">TiO</tspan><tspan class="lgs" dy="19.1">4</tspan></text>
</g>
<g id="phases">
<text class="mk" transform="translate(53.9,1201.8) scale(0.957,1.017)" font-size="64.0" stroke="#000" stroke-width="2.1" stroke-linejoin="miter">#</text>
<text class="ph" transform="translate(104.5,1202.9) scale(1,1.04)">Zn<tspan dy="28.4">2</tspan><tspan dy="-28.4">TIO</tspan><tspan dy="28.4">4</tspan></text>
<text class="mk" x="53.5" y="1336.2" font-size="58.0">*</text>
<text class="ph" transform="translate(94,1342.3) scale(1,1.04)">ZnO</text>
</g>
<text class="xl" transform="translate(1015.4,2078.2) scale(1,1.025)" stroke="#000" stroke-width="0.7">2 <tspan dx="3.0" style="letter-spacing:-1.2px">Theta</tspan></text>
</svg>
</body></html>
